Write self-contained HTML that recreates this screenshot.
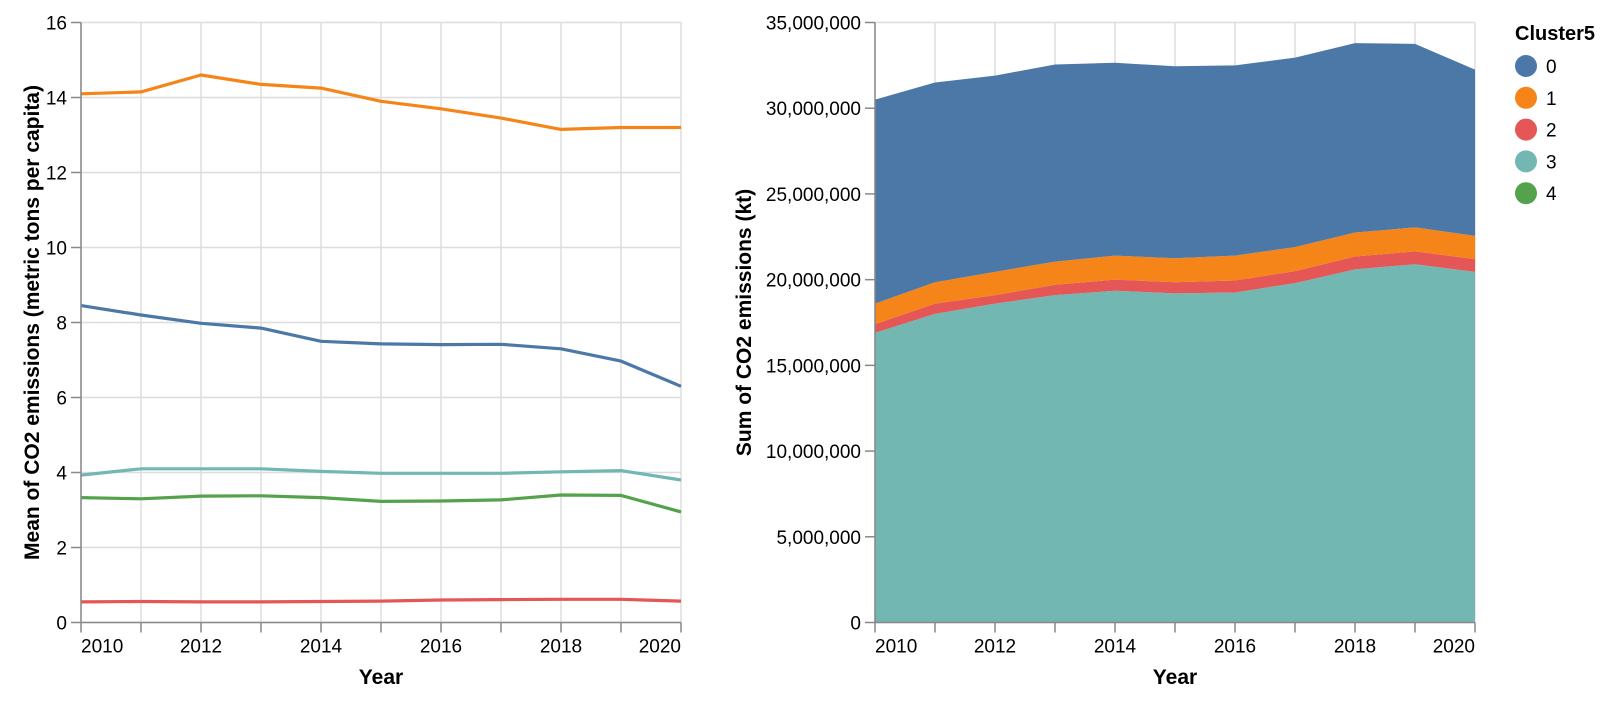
<!DOCTYPE html>
<html><head><meta charset="utf-8"><style>
html,body{margin:0;padding:0;background:#fff;}
svg text{font-family:"Liberation Sans",Arial,sans-serif;}
</style></head><body>
<svg id="c" width="1614" height="698" xmlns="http://www.w3.org/2000/svg"></svg>
<script>
const years=[2010,2011,2012,2013,2014,2015,2016,2017,2018,2019,2020];
const clusters=["0","1","2","3","4"];
const colors=["#4c78a8","#f58518","#e45756","#72b7b2","#54a24b"];
// left chart: mean CO2 per capita
const mean0=[8.45,8.2,7.98,7.85,7.5,7.43,7.41,7.42,7.3,6.97,6.3];
const mean1=[14.1,14.15,14.6,14.35,14.25,13.9,13.7,13.45,13.15,13.2,13.2];
const mean2=[0.55,0.56,0.55,0.55,0.56,0.57,0.6,0.61,0.62,0.62,0.57];
const mean3=[3.93,4.1,4.1,4.1,4.03,3.98,3.98,3.98,4.02,4.05,3.8];
const mean4=[3.33,3.3,3.37,3.38,3.33,3.23,3.24,3.27,3.4,3.39,2.95];
// right chart: sum CO2 (kt)
const sum0=[11.9e6,11.65e6,11.45e6,11.5e6,11.25e6,11.2e6,11.1e6,11.05e6,11.05e6,10.7e6,9.7e6];
const sum1=[1.2e6,1.25e6,1.35e6,1.35e6,1.4e6,1.4e6,1.45e6,1.4e6,1.4e6,1.4e6,1.35e6];
const sum2=[0.5e6,0.6e6,0.5e6,0.6e6,0.65e6,0.65e6,0.7e6,0.7e6,0.75e6,0.75e6,0.75e6];
const sum3=[16.9e6,18.0e6,18.6e6,19.1e6,19.35e6,19.2e6,19.25e6,19.8e6,20.6e6,20.9e6,20.45e6];
const sum4=[0,0,0,0,0,0,0,0,0,0,0];
const leftTicks=[0,2,4,6,8,10,12,14,16];
const rightTicks=[0,5e6,10e6,15e6,20e6,25e6,30e6,35e6];

const svg=document.getElementById('c');
const NS='http://www.w3.org/2000/svg';
function mk(tag,attrs,parent,text){const e=document.createElementNS(NS,tag);for(const k in attrs)e.setAttribute(k,attrs[k]);if(text!==undefined)e.textContent=text;(parent||svg).appendChild(e);return e;}
const pTop=22.5,pBot=622.5,W=600;

function axes(g,x0,yMax,ticks){
  const xs=y=>x0+(y-years[0])/(years[years.length-1]-years[0])*W;
  const ys=v=>pBot-v/yMax*(pBot-pTop);
  years.forEach(y=>{mk('line',{x1:xs(y),x2:xs(y),y1:pTop,y2:pBot,stroke:'#ddd','stroke-width':1.5},g);});
  ticks.forEach(t=>{mk('line',{x1:x0,x2:x0+W,y1:ys(t),y2:ys(t),stroke:'#ddd','stroke-width':1.5},g);});
  return {xs,ys};
}
function axisLines(g,x0,ticks,fmt,title,xs,ys,titleX){
  mk('line',{x1:x0,x2:x0+W,y1:pBot,y2:pBot,stroke:'#888','stroke-width':1.5},g);
  mk('line',{x1:x0,x2:x0,y1:pTop,y2:pBot,stroke:'#888','stroke-width':1.5},g);
  years.forEach((y,i)=>{
    const t=mk('line',{x1:xs(y),x2:xs(y),y1:pBot,y2:pBot+10,stroke:'#888','stroke-width':1.5},g);
    
    
    if(y%2===0){
      const anchor=i===0?'start':(i===years.length-1?'end':'middle');
      const l=mk('text',{x:xs(y),y:pBot+30,'font-size':19,'text-anchor':anchor,fill:'#000'},g,String(y));
      
      
    }
  });
  ticks.forEach(v=>{
    mk('line',{x1:x0-10,x2:x0,y1:ys(v),y2:ys(v),stroke:'#888','stroke-width':1.5},g);
    const l=mk('text',{x:x0-14,y:ys(v)+7,'font-size':19,'text-anchor':'end',fill:'#000'},g,fmt(v));
    
    
  });
  const xt=mk('text',{x:x0+W/2,y:684,'font-size':21,'font-weight':'bold','text-anchor':'middle'},g,'Year');
  
  
  const yt=mk('text',{x:0,y:0,'font-size':21,'font-weight':'bold','text-anchor':'middle',transform:`translate(${titleX},${(pTop+pBot)/2}) rotate(-90)`},g,title);
  
  
}

// Left chart
const gL=mk('g',{});


const L=axes(gL,81,16,leftTicks);
const means=[mean0,mean1,mean2,mean3,mean4];
means.forEach((arr,ci)=>{
  const d=arr.map((v,i)=>(i?'L':'M')+L.xs(years[i]).toFixed(1)+','+L.ys(v).toFixed(1)).join('');
  const p=mk('path',{d,fill:'none',stroke:colors[ci],'stroke-width':3.2,'stroke-linejoin':'round'},gL);
  
  
});
axisLines(gL,81,leftTicks,v=>String(v),'Mean of CO2 emissions (metric tons per capita)',L.xs,L.ys,39);

// Right chart
const gR=mk('g',{});


const R=axes(gR,875,35e6,rightTicks);
const sums=[sum0,sum1,sum2,sum3,sum4];
const order=[3,2,1,0,4];
let base=years.map(()=>0);
order.forEach(ci=>{
  const arr=sums[ci];
  const topv=base.map((b,i)=>b+arr[i]);
  let d=topv.map((v,i)=>(i?'L':'M')+R.xs(years[i]).toFixed(1)+','+R.ys(v).toFixed(1)).join('');
  for(let i=years.length-1;i>=0;i--)d+='L'+R.xs(years[i]).toFixed(1)+','+R.ys(base[i]).toFixed(1);
  d+='Z';
  const p=mk('path',{d,fill:colors[ci],stroke:'none'},gR);
  
  
  base=topv;
});
axisLines(gR,875,rightTicks,v=>v.toLocaleString('en-US'),'Sum of CO2 emissions (kt)',R.xs,R.ys,751);

// Legend
const lg=mk('g',{});


const lt=mk('text',{x:1515,y:40,'font-size':20,'font-weight':'bold'},lg,'Cluster5');


clusters.forEach((c,i)=>{
  const y=66+i*31.8;
  const e=mk('g',{},lg);
  
  
  mk('circle',{cx:1526,cy:y,r:11,fill:colors[i]},e);
  mk('text',{x:1546,y:y+7,'font-size':19},e,c);
});
</script>
</body></html>
